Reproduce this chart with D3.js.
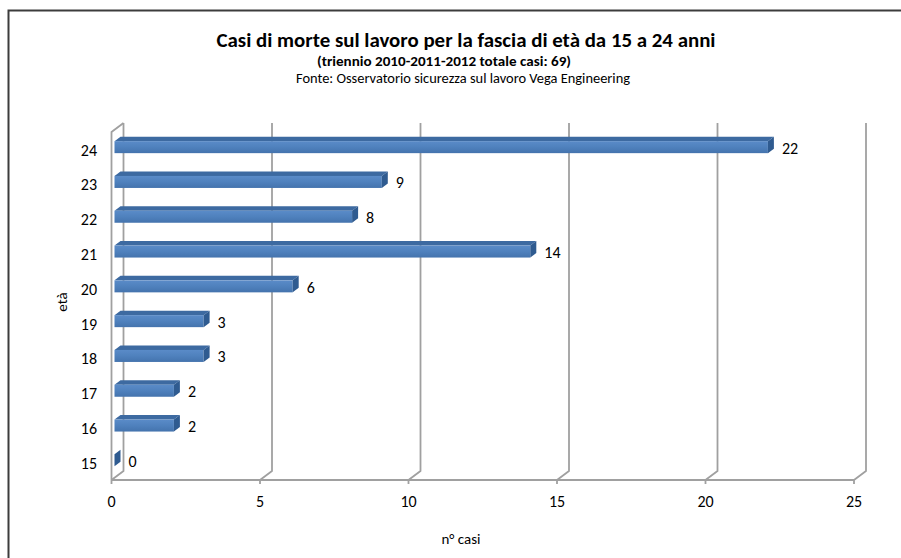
<!DOCTYPE html>
<html><head><meta charset="utf-8">
<script src="https://cdn.jsdelivr.net/npm/d3@7"></script>
<style>
html,body{margin:0;padding:0;background:#fff;}
svg{display:block;font-family:Carlito,Calibri,Lato,"Liberation Sans",sans-serif;}
</style></head><body>
<svg id="chart" width="901" height="558"></svg>
<script>
// Age groups (top to bottom) and number of fatal accidents
const ages = ["24","23","22","21","20","19","18","17","16","15"];
const cases = [22, 9, 8, 14, 6, 3, 3, 2, 2, 0];
const xTicks = [0, 5, 10, 15, 20, 25];

const titleText = "Casi di morte sul lavoro per la fascia di età da 15 a 24 anni";
const subtitleText = "(triennio 2010-2011-2012 totale casi: 69)";
const sourceText = "Fonte: Osservatorio sicurezza sul lavoro Vega Engineering";
const xTitle = "n° casi";
const yTitle = "età";

const rows = ages.map((a, i) => ({age: a, value: cases[i]}));

const svg = d3.select("#chart");

// oblique depth vector of the 3D plot box
const DX = 12, DY = -9;

const x = d3.scaleLinear().domain([0, 25]).range([111.5, 854]);
const y = d3.scaleBand().domain(ages).range([132, 480]);

const wallColor = "#a0a0a0";

// outer frame
svg.append("rect")
  .attr("x", 8.5).attr("y", 10.5).attr("width", 900).attr("height", 560)
  .attr("fill", "none").attr("stroke", "#3c3c3c").attr("stroke-width", 2);

const box = svg.append("g").attr("fill", "none").attr("stroke", wallColor)
  .attr("stroke-width", 1.8).attr("stroke-linejoin", "round");

const yTop = y.range()[0], yBot = y.range()[1];

// left wall: front edge and top bevel
box.append("path").attr("d",
  `M${x(0)},${yBot}L${x(0)},${yTop}L${x(0) + DX},${yTop + DY}`);

// gridlines on the back wall with their floor bevel
xTicks.forEach(v => {
  box.append("path").attr("d",
    `M${x(v) + DX},${yTop + DY}L${x(v) + DX},${yBot + DY}L${x(v)},${yBot}`);
});

// floor front edge and tick marks
box.append("path").attr("d", `M${x(0)},${yBot}L${x(25)},${yBot}`);
xTicks.forEach(v => {
  box.append("path").attr("d", `M${x(v)},${yBot}L${x(v)},${yBot + 4}`);
});

// bar gradients
const defs = svg.append("defs");
const gFront = defs.append("linearGradient").attr("id", "front")
  .attr("x1", 0).attr("y1", 0).attr("x2", 0).attr("y2", 1);
gFront.append("stop").attr("offset", "0%").attr("stop-color", "#5a8bc8");
gFront.append("stop").attr("offset", "50%").attr("stop-color", "#4f81bd");
gFront.append("stop").attr("offset", "100%").attr("stop-color", "#4473ad");

// 3D bars
const barH = 12, t0 = 0.25, t1 = 0.75;
const bars = svg.append("g");
rows.forEach(d => {
  const yc = y(d.age) + y.bandwidth() / 2;
  const xa = x(0) + t0 * DX, xb = x(d.value) + t0 * DX;
  const ya = yc - barH / 2 + t0 * DY, yb = yc + barH / 2 + t0 * DY;
  const ddx = (t1 - t0) * DX, ddy = (t1 - t0) * DY;
  // top face
  bars.append("path")
    .attr("d", `M${xa},${ya}L${xb},${ya}L${xb + ddx},${ya + ddy}L${xa + ddx},${ya + ddy}Z`)
    .attr("fill", "#3d6aa1");
  // front face
  if (xb > xa) {
    bars.append("rect").attr("x", xa).attr("y", ya)
      .attr("width", xb - xa).attr("height", yb - ya)
      .attr("fill", "url(#front)");
  }
  // end face
  bars.append("path")
    .attr("d", `M${xb},${ya}L${xb + ddx},${ya + ddy}L${xb + ddx},${yb + ddy}L${xb},${yb}Z`)
    .attr("fill", "#2f5b90");
  // value label
  svg.append("text")
    .attr("x", x(d.value) + DX + 5).attr("y", yc - 1.5).attr("dy", "0.35em")
    .attr("font-size", 16).attr("fill", "#000")
    .text(d.value);
});

// category labels
svg.append("g").selectAll("text").data(ages).join("text")
  .attr("x", 97).attr("y", d => y(d) + y.bandwidth() / 2 + 0.5).attr("dy", "0.35em")
  .attr("text-anchor", "end").attr("font-size", 16).text(d => d);

// value axis labels
svg.append("g").selectAll("text").data(xTicks).join("text")
  .attr("x", d => x(d)).attr("y", 507)
  .attr("text-anchor", "middle").attr("font-size", 16).text(d => d);

// axis titles
svg.append("text").attr("x", 461).attr("y", 544)
  .attr("text-anchor", "middle").attr("font-size", 15).text(xTitle);
svg.append("text").attr("transform", "translate(67,302) rotate(-90)")
  .attr("text-anchor", "middle").attr("font-size", 15).text(yTitle);

// titles
svg.append("text").attr("x", 466).attr("y", 47)
  .attr("text-anchor", "middle").attr("font-size", 20).attr("font-weight", "bold")
  .attr("textLength", 499).attr("lengthAdjust", "spacingAndGlyphs").text(titleText);
svg.append("text").attr("x", 444).attr("y", 65.5)
  .attr("text-anchor", "middle").attr("font-size", 14).attr("font-weight", "bold")
  .attr("textLength", 254).attr("lengthAdjust", "spacingAndGlyphs").text(subtitleText);
svg.append("text").attr("x", 463).attr("y", 83)
  .attr("text-anchor", "middle").attr("font-size", 13.5)
  .attr("textLength", 334).attr("lengthAdjust", "spacingAndGlyphs").text(sourceText);
</script>
</body></html>
